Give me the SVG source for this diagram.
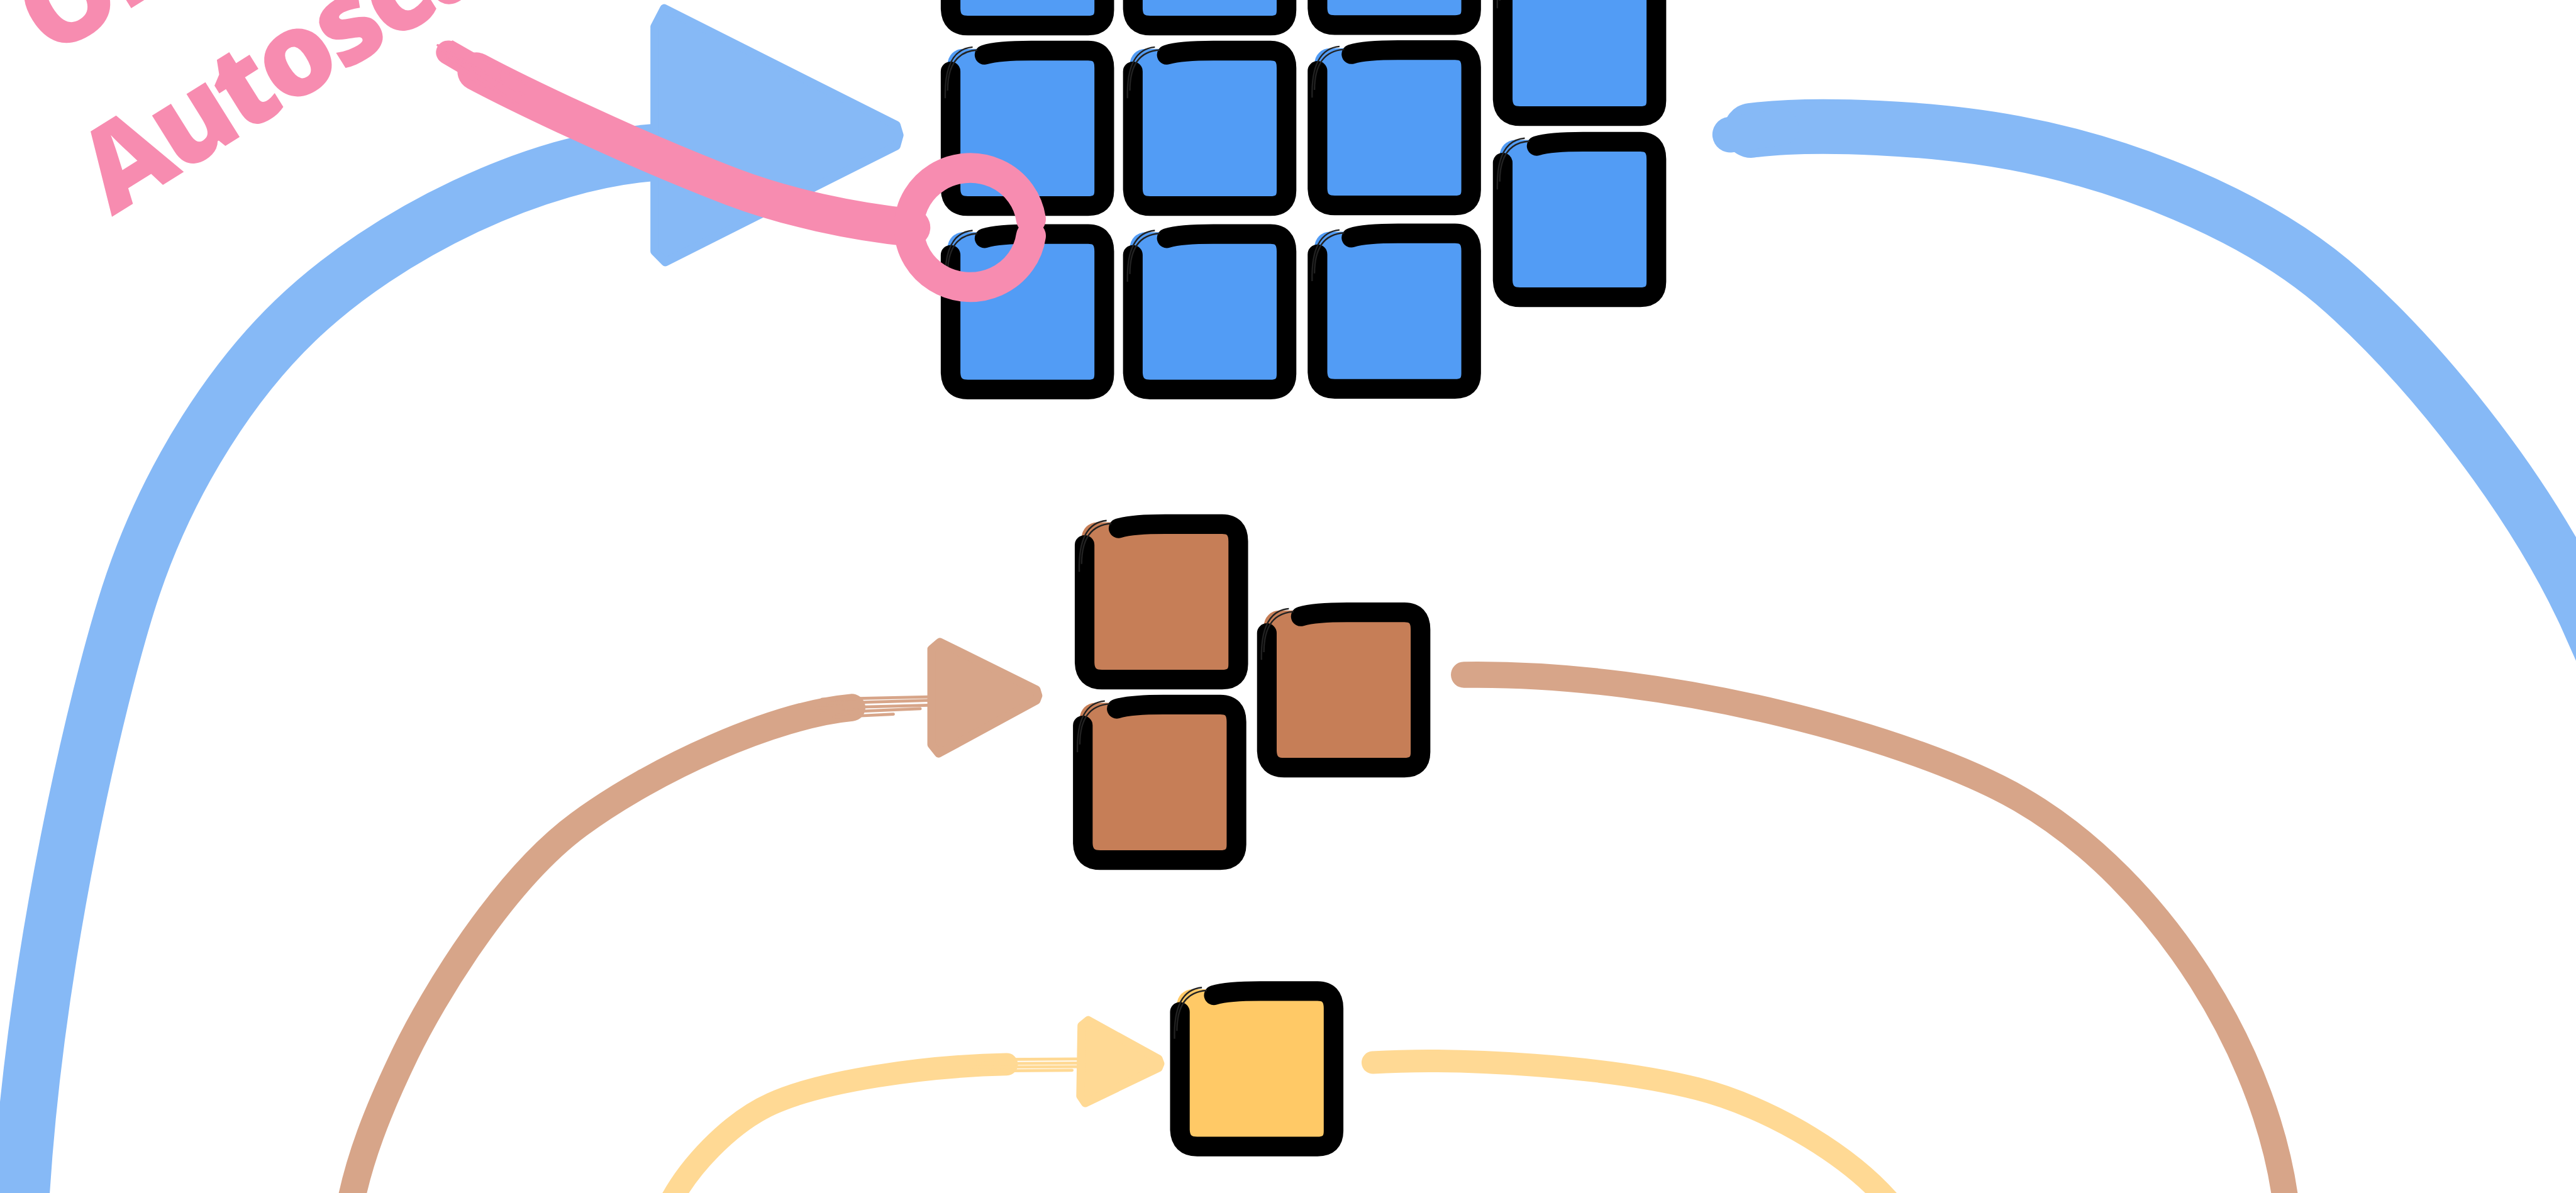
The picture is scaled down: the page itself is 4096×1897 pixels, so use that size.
<svg xmlns="http://www.w3.org/2000/svg" width="4096" height="1897" viewBox="0 0 4096 1897">
<defs>
<style>
.band{fill:none;stroke-linecap:round;stroke-linejoin:round}
.bl{stroke:#86B9F6}
.br{stroke:#D7A589}
.ye{stroke:#FFD994}
.streak{fill:none;stroke-linecap:round}
.head{stroke-linejoin:round;stroke-width:14}
.pk{fill:none;stroke:#F78CB0;stroke-linecap:round;stroke-linejoin:round}
.label{font-family:"Open Sans",Roboto,"Liberation Sans",sans-serif;font-weight:800;font-size:196px;letter-spacing:-8px;fill:#F78CB0}
.edge{fill:none;stroke:#000;stroke-linecap:round;stroke-linejoin:round}
</style>
<g id="box">
 <rect x="10" y="12" width="268" height="268" rx="26"/>
 <path class="edge" stroke-width="33" d="M72,22 Q95,15 150,15 L246,15 Q273,15 273,44 L273,250 Q273,276 246,276 L44,276 Q16,276 15,248 L15,50"/>
 <path d="M6,95 Q4,13 52,9 M10,82 Q10,17 60,14" fill="none" stroke="#222" stroke-width="2.5"/>
</g>
</defs>
<rect width="4096" height="1897" fill="#fff"/>
<g transform="scale(0.94705)">
<g id="connectors">
 <path class="band bl" stroke-width="96" d="M1100,256 C900,270 650,390 496,538 C400,630 285,790 217,1000 C163,1168 60,1600 35,2010 L30,2100"/>
 <path class="band bl" stroke-width="92" d="M2940,219 C3050,205 3250,215 3382,240 C3554,272 3785,355 3935,490 C4085,625 4250,837 4340,1030 L4380,1120"/>
 <path class="band bl" stroke-width="60" d="M2905,226 L2990,214"/>
 <polygon class="head" fill="#86B9F6" stroke="#86B9F6" points="1099,45 1115,14 1505,210 1510,227 1505,245 1117,440 1099,422"/>
 <path class="band br" stroke-width="46" d="M1430,1188 C1300,1200 1100,1290 972,1384 C844,1478 726,1675 681,1768 C636,1861 600,1950 585,2040"/>
 <path class="streak br" stroke-width="5" d="M1380,1174 L1560,1170 M1390,1181 L1560,1176 M1370,1189 L1560,1184 M1380,1197 L1545,1190 M1400,1204 L1500,1199"/>
 <path class="band br" stroke-width="44" d="M2458,1133 C2808,1128 3219,1242 3392,1342 C3630,1480 3815,1780 3840,2040"/>
 <polygon class="head" fill="#D7A589" stroke="#D7A589" points="1564,1090 1578,1078 1740,1158 1743,1168 1740,1176 1576,1265 1564,1250"/>
 <path class="band ye" stroke-width="38" d="M1690,1787 C1550,1790 1380,1815 1296,1853 C1229,1883 1150,1960 1115,2040"/>
 <path class="streak ye" stroke-width="5" d="M1640,1779 L1812,1778 M1650,1786 L1812,1785 M1630,1792 L1812,1791 M1660,1798 L1800,1797"/>
 <path class="band ye" stroke-width="38" d="M2305,1784 C2450,1775 2700,1790 2850,1828 C2970,1858 3120,1945 3190,2040"/>
 <polygon class="head" fill="#FFD994" stroke="#FFD994" points="1816,1722 1827,1713 1945,1778 1948,1786 1945,1793 1822,1852 1814,1840"/>
</g>
<g id="pods-blue" fill="#529CF5">
 <g id="blue-r1c1"><use href="#box" x="1581" y="-233"/></g>
 <g id="blue-r1c2"><use href="#box" x="1887" y="-233"/></g>
 <g id="blue-r1c3"><use href="#box" x="2197" y="-234"/></g>
 <g id="blue-r2c1"><use href="#box" x="1581" y="70"/></g>
 <g id="blue-r2c2"><use href="#box" x="1887" y="70"/></g>
 <g id="blue-r2c3"><use href="#box" x="2197" y="69"/></g>
 <g id="blue-r3c1"><use href="#box" x="1581" y="378"/></g>
 <g id="blue-r3c2"><use href="#box" x="1887" y="378"/></g>
 <g id="blue-r3c3"><use href="#box" x="2197" y="377"/></g>
 <g id="blue-c4a"><use href="#box" x="2508" y="-81"/></g>
 <g id="blue-c4b"><use href="#box" x="2508" y="223"/></g>
</g>
<g id="pods-brown" fill="#C67E57">
 <g id="brown-1"><use href="#box" x="1806" y="865"/></g>
 <g id="brown-2"><use href="#box" x="1803" y="1168"/></g>
 <g id="brown-3"><use href="#box" x="2112" y="1013"/></g>
</g>
<g id="pods-yellow" fill="#FFC966">
 <g id="yellow-1"><use href="#box" x="1966" y="1649"/></g>
</g>
<g id="annotation">
 <g transform="translate(188,364) rotate(-32)">
  <text class="label" x="0" y="0">Autoscaling</text>
  <text class="label" x="52" y="-280">Oh</text>
 </g>
 <path class="pk" stroke-width="64" d="M800,120 C860,152 1050,245 1230,314 C1320,348 1430,372 1530,382"/>
 <path class="pk" stroke-width="40" d="M752,88 L820,128"/>
 <path class="pk" stroke-width="4" d="M735,76 L880,160 M745,94 L870,176 M760,70 L900,150 M742,84 L820,140 M770,104 L860,170"/>
 <path class="pk" stroke-width="50" stroke-linecap="butt" d="M1731,396 A103,100 0 1 1 1731,368"/>
</g>
</g>
</svg>
